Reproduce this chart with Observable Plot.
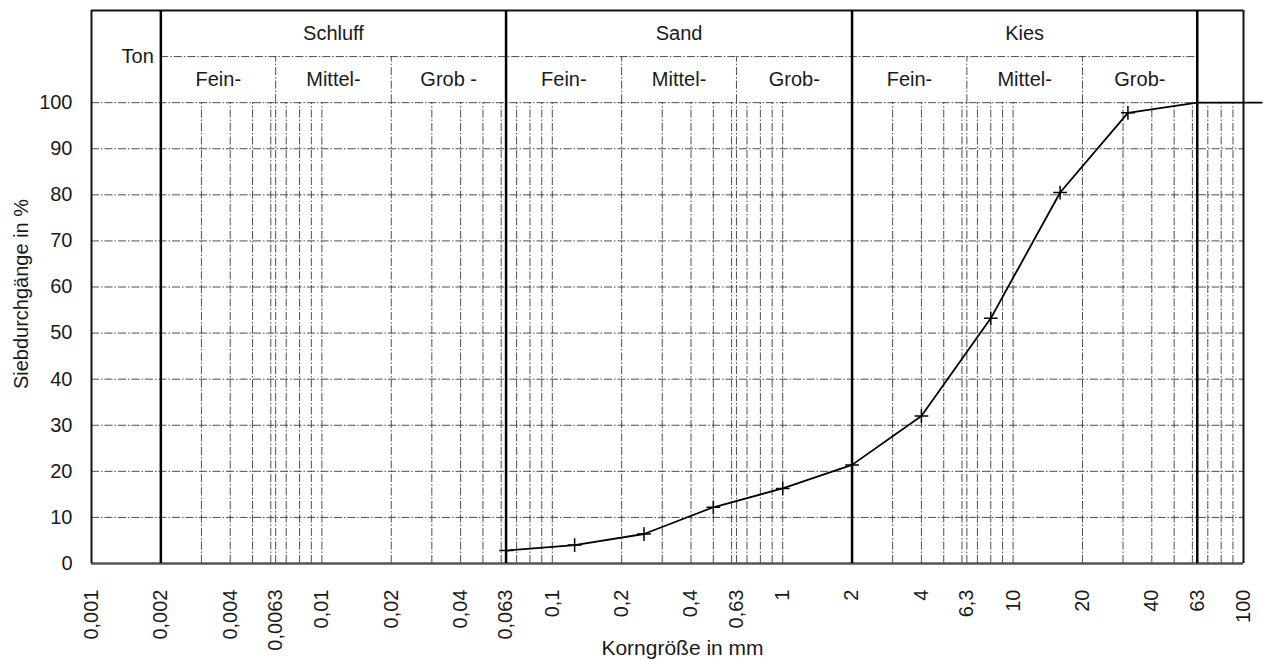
<!DOCTYPE html>
<html><head><meta charset="utf-8">
<script src="https://cdn.jsdelivr.net/npm/d3@7"></script>
<script src="https://cdn.jsdelivr.net/npm/@observablehq/plot@0.6"></script>
<style>
html,body{margin:0;padding:0;background:#fff;overflow:hidden}
g[aria-label="y title"] text{letter-spacing:1.2px}
</style></head><body><div id="chart"></div>
<script>
// Sieve curve (Korngröße in mm vs. Siebdurchgang in %)
const sieveSizes = [0.063, 0.125, 0.25, 0.5, 1, 2, 4, 8, 16, 31.5, 63, 120];
const passingPct = [2.8, 4.0, 6.4, 12.2, 16.3, 21.4, 32.0, 53.2, 80.5, 97.8, 100, 100];
const measuredCount = 10; // points drawn with a "+" marker

const xTickValues = [0.001, 0.002, 0.004, 0.0063, 0.01, 0.02, 0.04, 0.063, 0.1, 0.2, 0.4, 0.63, 1, 2, 4, 6.3, 10, 20, 40, 63, 100];
const yTickValues = [0, 10, 20, 30, 40, 50, 60, 70, 80, 90, 100];

const mainClassLabels = ["Ton", "Schluff", "Sand", "Kies"];
const mainClassBounds = [0.001, 0.002, 0.063, 2, 63, 100];
const subClassLabels = ["Fein-", "Mittel-", "Grob -", "Fein-", "Mittel-", "Grob-", "Fein-", "Mittel-", "Grob-"];
const subClassBounds = [0.002, 0.0063, 0.02, 0.063, 0.2, 0.63, 2, 6.3, 20, 63];

const fmt = d => String(d).replace(".", ",");
const curve = sieveSizes.map((s, i) => ({size: s, pct: passingPct[i]}));
const markers = curve.slice(0, measuredCount);

// log grid lines (1..9 per decade) plus the x,63 class boundaries
const gridX = [];
for (const dec of [0.001, 0.01, 0.1, 1, 10])
  for (let k = 1; k <= 9; k++) {
    const v = +(dec * k).toPrecision(3);
    if (v > 0.002 && v < 100) gridX.push(v);
  }
gridX.push(0.0063, 0.63, 6.3);

const inner = mainClassBounds.slice(1, -1);
const outer = [mainClassBounds[0], mainClassBounds[mainClassBounds.length - 1]];
const mainCells = mainClassLabels.slice(1).map((l, i) => ({label: l, x: Math.sqrt(mainClassBounds[i + 1] * mainClassBounds[i + 2])}));
const subCells = subClassLabels.map((l, i) => ({label: l, x: Math.sqrt(subClassBounds[i] * subClassBounds[i + 1])}));
const subDividers = subClassBounds.filter(v => !inner.includes(v));

const grid = {stroke: "#3a3a3a", strokeWidth: 0.9, strokeDasharray: "8,2,1.5,2"};
const ink = "#1a1a1a";

const chart = Plot.plot({
  width: 1263, height: 660,
  marginLeft: 91, marginRight: 20, marginTop: 10, marginBottom: 97,
  style: {fontFamily: "'Liberation Sans', Arial, sans-serif", fontSize: "20px", color: ink, background: "#fff"},
  x: {type: "log", domain: [0.001, 100], axis: null},
  y: {domain: [0, 120]},
  marks: [
    Plot.ruleY(yTickValues.filter(v => v > 0), {x1: 0.001, x2: 100, ...grid}),
    Plot.ruleX(gridX, {y1: 0, y2: 100, ...grid}),
    Plot.ruleX(subDividers, {y1: 100, y2: 110, ...grid}),
    Plot.ruleY([110], {x1: 0.002, x2: 63, ...grid}),
    Plot.ruleY([0], {x1: 0.001, x2: 100, stroke: "#555", strokeWidth: 2.5}),
    Plot.ruleY([120], {x1: 0.001, x2: 100, stroke: "#111", strokeWidth: 2}),
    Plot.ruleX(outer, {y1: 0, y2: 120, stroke: "#111", strokeWidth: 2}),
    Plot.ruleX(inner, {y1: 0, y2: 120, stroke: "#000", strokeWidth: 2.5}),
    Plot.line(curve, {x: "size", y: "pct", stroke: "#000", strokeWidth: 1.8}),
    Plot.dot(markers, {x: "size", y: "pct", symbol: "plus", r: 4.5, stroke: "#000", strokeWidth: 1.5}),
    Plot.text([mainClassLabels[0]], {x: mainClassBounds[1], y: 110, text: d => d, textAnchor: "end", dx: -7, fill: ink}),
    Plot.text(mainCells, {x: "x", y: 115, text: "label", fill: ink}),
    Plot.text(subCells, {x: "x", y: 105, text: "label", fill: ink}),
    Plot.axisY(yTickValues, {tickSize: 0, tickPadding: 19, fontSize: 20, label: null}),
    Plot.text(["Siebdurchgänge in %"], {frameAnchor: "left", textAnchor: "middle", rotate: -90, dx: -70, dy: 7, fontSize: 20, fill: ink, ariaLabel: "y title"}),
    // x tick labels (own text mark so that every boundary value is shown)
    Plot.text(xTickValues, {x: d => d, y: 0, text: fmt, rotate: -90, textAnchor: "end", dy: 26, fontSize: 20, fill: ink, ariaLabel: "x tick labels"}),
    Plot.text(["Korngröße in mm"], {frameAnchor: "bottom", dx: 15, dy: 91, fontSize: 21, fill: ink})
  ]
});
document.getElementById("chart").appendChild(chart);

// rotated tick labels in the reference are stretched along their length
chart.querySelectorAll('g[aria-label="x tick labels"] text').forEach(t => {
  const tr = t.getAttribute("transform") || "";
  t.setAttribute("transform", tr + " scale(1.2,1)");
});
</script></body></html>
